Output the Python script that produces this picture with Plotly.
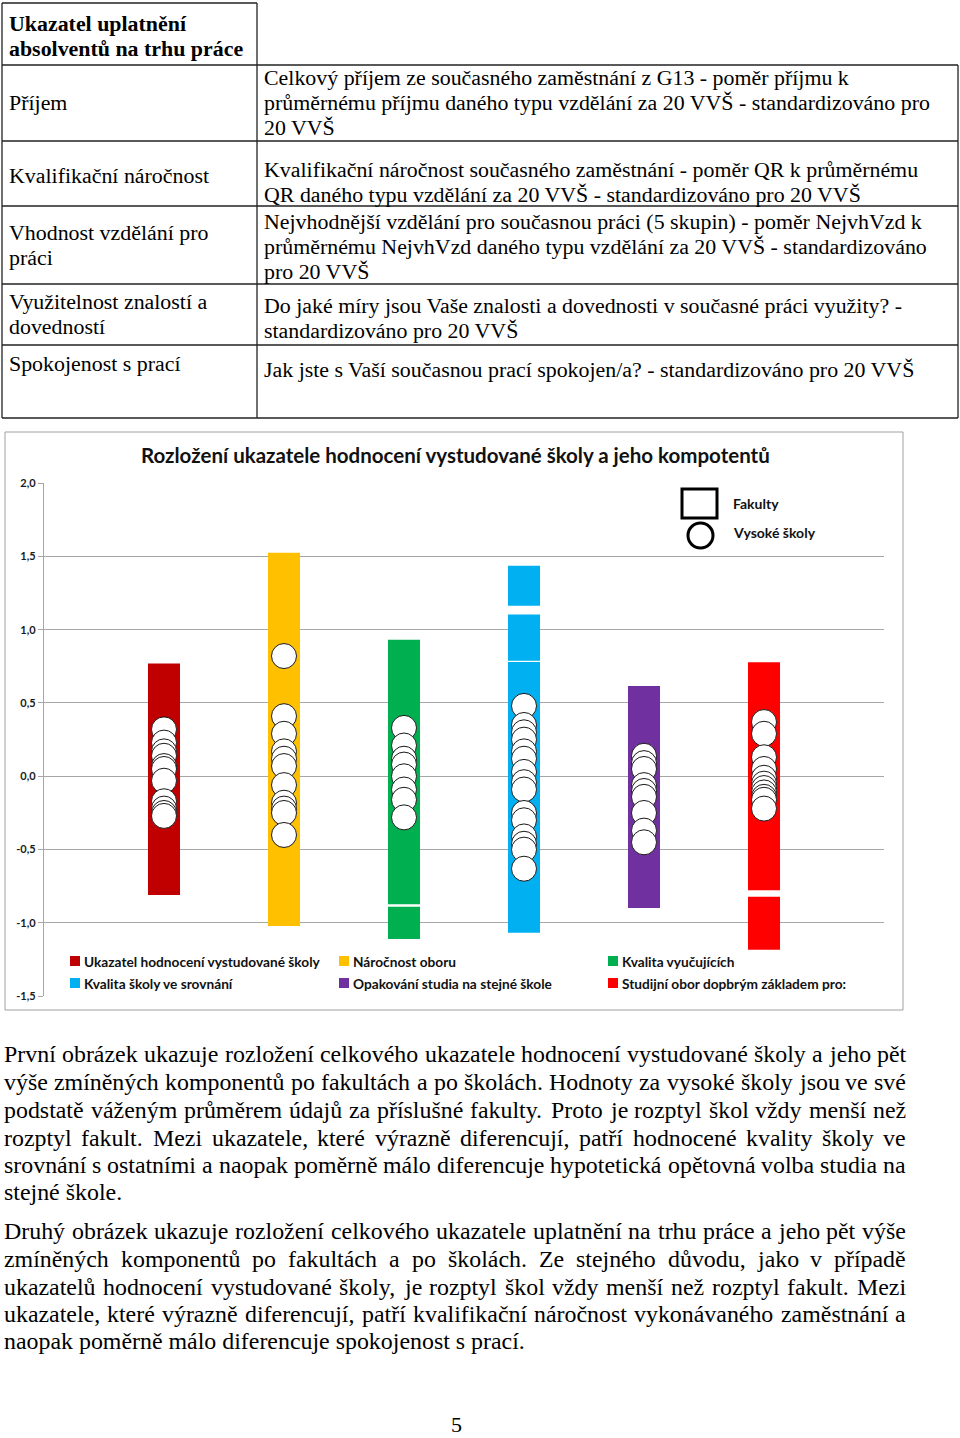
import plotly.graph_objects as go

# ---------------- data ----------------
categories = ["Ukazatel hodnocení vystudované školy", "Náročnost oboru", "Kvalita vyučujících",
              "Kvalita školy ve srovnání", "Opakování studia na stejné škole",
              "Studijní obor dopbrým základem pro:"]
colors = ["#C00000", "#FFC000", "#00B050", "#00B0F0", "#7030A0", "#FF0000"]

# faculty value ranges (segments) per category
fac_low = [[-0.809], [-1.020], [-1.109, -0.873], [-1.066, 0.788, 1.163], [-0.898], [-1.182, -0.777]]
fac_high = [[0.770], [1.524], [-0.889, 0.931], [0.779, 1.104, 1.436], [0.616], [-0.821, 0.777]]

# universities (Vysoké školy)
school_vals = [
    [0.32, 0.23, 0.17, 0.14, 0.07, 0.05, -0.03, -0.17, -0.22, -0.25, -0.27],
    [0.82, 0.41, 0.29, 0.17, 0.12, 0.07, -0.06, -0.18, -0.22, -0.25, -0.40],
    [0.33, 0.21, 0.12, 0.08, 0.00, -0.09, -0.16, -0.28],
    [0.48, 0.35, 0.30, 0.25, 0.17, 0.12, 0.03, -0.04, -0.09, -0.25, -0.30, -0.41, -0.46, -0.50, -0.63],
    [0.14, 0.09, 0.05, -0.06, -0.10, -0.14, -0.25, -0.37, -0.45],
    [0.37, 0.29, 0.13, 0.05, -0.01, -0.05, -0.08, -0.11, -0.14, -0.16, -0.22],
]

yticks = [-1.5, -1.0, -0.5, 0.0, 0.5, 1.0, 1.5, 2.0]
ytick_labels = ["-1,5", "-1,0", "-0,5", "0,0", "0,5", "1,0", "1,5", "2,0"]

chart_title = "Rozložení ukazatele hodnocení vystudované školy a jeho kompotentů"
marker_legend = ["Fakulty", "Vysoké školy"]

table_header = ["Ukazatel uplatnění", "absolventů na trhu práce"]
table_labels = [["Příjem"], ["Kvalifikační náročnost"], ["Vhodnost vzdělání pro", "práci"],
                ["Využitelnost znalostí a", "dovedností"], ["Spokojenost s prací"]]
table_desc = [
    ["Celkový příjem ze současného zaměstnání z G13 - poměr příjmu k",
     "průměrnému příjmu daného typu vzdělání za 20 VVŠ - standardizováno pro",
     "20 VVŠ"],
    ["Kvalifikační náročnost současného zaměstnání - poměr QR k průměrnému",
     "QR daného typu vzdělání za 20 VVŠ - standardizováno pro 20 VVŠ"],
    ["Nejvhodnější vzdělání pro současnou práci (5 skupin) - poměr NejvhVzd k",
     "průměrnému NejvhVzd daného typu vzdělání za 20 VVŠ - standardizováno",
     "pro 20 VVŠ"],
    ["Do jaké míry jsou Vaše znalosti a dovednosti v současné práci využity? -",
     "standardizováno pro 20 VVŠ"],
    ["Jak jste s Vaší současnou prací spokojen/a? - standardizováno pro 20 VVŠ"],
]

paragraphs = [
    ["První obrázek ukazuje rozložení celkového ukazatele hodnocení vystudované školy a jeho pět",
     "výše zmíněných komponentů po fakultách a po školách. Hodnoty za vysoké školy jsou ve své",
     "podstatě váženým průměrem údajů za příslušné fakulty. Proto je rozptyl škol vždy menší než",
     "rozptyl fakult. Mezi ukazatele, které výrazně diferencují, patří hodnocené kvality školy ve",
     "srovnání s ostatními a naopak poměrně málo diferencuje hypotetická opětovná volba studia na",
     "stejné škole."],
    ["Druhý obrázek ukazuje rozložení celkového ukazatele uplatnění na trhu práce a jeho pět výše",
     "zmíněných komponentů po fakultách a po školách. Ze stejného důvodu, jako v případě",
     "ukazatelů hodnocení vystudované školy, je rozptyl škol vždy menší než rozptyl fakult. Mezi",
     "ukazatele, které výrazně diferencují, patří kvalifikační náročnost vykonávaného zaměstnání a",
     "naopak poměrně málo diferencuje spokojenost s prací."],
]
page_number = "5"

# ---------------- helpers ----------------
W, H = 960, 1438
def PX(x): return x / W
def PY(y): return 1 - y / H

SERIF = "Liberation Serif"
SANS = "Lato"

# Times-Roman advance widths (per 1000 em) for justification
_tw = {' ': 250, 'a': 444, 'b': 500, 'c': 444, 'd': 500, 'e': 444, 'f': 333, 'g': 500, 'h': 500,
       'i': 278, 'j': 278, 'k': 500, 'l': 278, 'm': 778, 'n': 500, 'o': 500, 'p': 500, 'q': 500,
       'r': 333, 's': 389, 't': 278, 'u': 500, 'v': 500, 'w': 722, 'x': 500, 'y': 500, 'z': 444,
       'A': 722, 'B': 667, 'C': 667, 'D': 722, 'E': 611, 'F': 556, 'G': 722, 'H': 722, 'I': 333,
       'J': 389, 'K': 722, 'L': 611, 'M': 889, 'N': 722, 'O': 722, 'P': 556, 'Q': 722, 'R': 667,
       'S': 556, 'T': 611, 'U': 722, 'V': 722, 'W': 944, 'X': 722, 'Y': 722, 'Z': 611,
       '.': 250, ',': 250, '-': 333, '?': 444, '(': 333, ')': 333, '/': 278, ':': 278}
_acc = {'á': 'a', 'č': 'c', 'ď': 'd', 'é': 'e', 'ě': 'e', 'í': 'i', 'ň': 'n', 'ó': 'o', 'ř': 'r',
        'š': 's', 'ť': 't', 'ú': 'u', 'ů': 'u', 'ý': 'y', 'ž': 'z', 'Š': 'S', 'Ž': 'Z', 'Č': 'C',
        'Ř': 'R', 'Ú': 'U', 'Ý': 'Y', 'Á': 'A', 'É': 'E', 'Í': 'I'}
def tw(s, fs):
    tot = 0
    for ch in s:
        ch = _acc.get(ch, ch)
        tot += _tw.get(ch, 500)
    return tot * fs / 1000.0

fig = go.Figure()

# ---------------- chart ----------------
xs = list(range(1, len(categories) + 1))
for i, cat in enumerate(categories):
    lows, highs = fac_low[i], fac_high[i]
    fig.add_trace(go.Bar(
        x=[xs[i]] * len(lows), base=lows, y=[h - l for l, h in zip(lows, highs)],
        width=0.267, marker=dict(color=colors[i], line=dict(width=0)),
        name=cat, showlegend=False, hoverinfo="skip"))
for i, cat in enumerate(categories):
    fig.add_trace(go.Scatter(
        x=[xs[i]] * len(school_vals[i]), y=school_vals[i], mode="markers",
        marker=dict(symbol="circle", size=25, color="white", line=dict(color="#1a1a1a", width=1)),
        showlegend=False, hoverinfo="skip"))

GRID = "#A6A6A6"
fig.update_layout(
    width=W, height=H, margin=dict(l=0, r=0, t=0, b=0, pad=0, autoexpand=False),
    paper_bgcolor="white", plot_bgcolor="white", barmode="overlay", showlegend=False,
    xaxis=dict(domain=[PX(44), PX(884)], range=[0, 7], showticklabels=False, showgrid=False,
               zeroline=False, showline=False, fixedrange=True, automargin=False),
    yaxis=dict(domain=[PY(996.3), PY(483)], range=[-1.5, 2.0], tickvals=yticks, ticktext=ytick_labels,
               showgrid=True, gridcolor=GRID, gridwidth=1.2, zeroline=False, showline=True,
               linecolor=GRID, linewidth=1.2, ticks="outside", ticklen=5, tickcolor=GRID,
               automargin=False, fixedrange=True,
               tickfont=dict(family=SANS, size=11, color="#1a1a1a", weight=700)),
)

shapes = []
annots = []
# chart border
shapes.append(dict(type="rect", xref="paper", yref="paper", x0=PX(5), x1=PX(903), y0=PY(1010), y1=PY(432),
                   line=dict(color="#A0A0A0", width=1)))
# title
annots.append(dict(text=chart_title, x=PX(455), y=PY(455), xref="paper", yref="paper", showarrow=False,
                   xanchor="center", yanchor="middle", font=dict(family=SANS, size=20.5, color="#111", weight=700)))
# marker legend (top right)
shapes.append(dict(type="rect", xref="paper", yref="paper", x0=PX(682), x1=PX(717), y0=PY(518), y1=PY(489),
                   line=dict(color="black", width=3), fillcolor="white"))
shapes.append(dict(type="circle", xref="paper", yref="paper", x0=PX(688), x1=PX(713), y0=PY(548), y1=PY(523),
                   line=dict(color="black", width=3), fillcolor="white"))
for txt, yy in zip(marker_legend, [503, 533]):
    annots.append(dict(text=txt, x=PX(731), y=PY(yy), xref="paper", yref="paper", showarrow=False,
                       xanchor="left", yanchor="middle", font=dict(family=SANS, size=14, color="#111", weight=700)))
# series legend (bottom)
leg_x = [70, 339, 608]
leg_y = [961, 983]
for i, cat in enumerate(categories):
    cx = leg_x[i % 3]
    cy = leg_y[i // 3]
    shapes.append(dict(type="rect", xref="paper", yref="paper", x0=PX(cx), x1=PX(cx + 10),
                       y0=PY(cy + 5), y1=PY(cy - 5), line=dict(width=0), fillcolor=colors[i]))
    annots.append(dict(text=cat, x=PX(cx + 12), y=PY(cy), xref="paper", yref="paper", showarrow=False,
                       xanchor="left", yanchor="middle", font=dict(family=SANS, size=13.7, color="#111", weight=700)))

# ---------------- table ----------------
LC = "#222"
LW = 1.3
def hline(x0, x1, y):
    shapes.append(dict(type="line", xref="paper", yref="paper", x0=PX(x0), x1=PX(x1), y0=PY(y), y1=PY(y),
                       line=dict(color=LC, width=LW)))
def vline(x, y0, y1):
    shapes.append(dict(type="line", xref="paper", yref="paper", x0=PX(x), x1=PX(x), y0=PY(y0), y1=PY(y1),
                       line=dict(color=LC, width=LW)))
hline(2, 257, 3)
for yy in [65, 141, 206, 284, 345, 418]:
    hline(2, 958, yy)
vline(2, 3, 418)
vline(257, 3, 418)
vline(958, 65, 418)

TFS = 21.9
def ttext(t, x, y, bold=False):
    annots.append(dict(text=t, x=PX(x), y=PY(y), xref="paper", yref="paper", showarrow=False,
                       xanchor="left", yanchor="middle",
                       font=dict(family=SERIF, size=TFS, color="black", weight=700 if bold else 400)))
for t, yy in zip(table_header, [23, 48]):
    ttext(t, 7, yy, bold=True)
label_y = [[103], [175], [233, 258], [302, 327], [364]]
desc_y = [[78, 103, 128], [169, 194], [221, 246, 271], [306, 331], [369]]
for r in range(len(table_labels)):
    for t, yy in zip(table_labels[r], label_y[r]):
        ttext(t, 7, yy)
    for t, yy in zip(table_desc[r], desc_y[r]):
        ttext(t, 262, yy)

# ---------------- paragraphs (justified) ----------------
PFS = 23.9
PX0, PX1 = 2, 904
para_y = [[1054, 1082, 1110, 1138, 1165, 1192], [1231, 1259, 1287, 1314, 1341]]
for p, lines in enumerate(paragraphs):
    for li, line in enumerate(lines):
        yy = para_y[p][li]
        last = (li == len(lines) - 1)
        words = line.split(" ")
        if last or len(words) < 2:
            annots.append(dict(text=line, x=PX(PX0), y=PY(yy), xref="paper", yref="paper", showarrow=False,
                               xanchor="left", yanchor="middle", font=dict(family=SERIF, size=PFS, color="black")))
            continue
        wws = [tw(w, PFS) for w in words]
        gap = (PX1 - PX0 - sum(wws)) / (len(words) - 1)
        xcur = PX0
        for w, ww in zip(words, wws):
            annots.append(dict(text=w, x=PX(xcur), y=PY(yy), xref="paper", yref="paper", showarrow=False,
                               xanchor="left", yanchor="middle", font=dict(family=SERIF, size=PFS, color="black")))
            xcur += ww + gap

annots.append(dict(text=page_number, x=PX(456), y=PY(1424), xref="paper", yref="paper", showarrow=False,
                   xanchor="center", yanchor="middle",
                   font=dict(family=SERIF, size=22, color="black")))

fig.update_layout(shapes=shapes, annotations=annots)
fig.write_html("out.html", config={"displayModeBar": False},
               post_script="document.body.style.margin='0';document.body.style.overflow='hidden';")
